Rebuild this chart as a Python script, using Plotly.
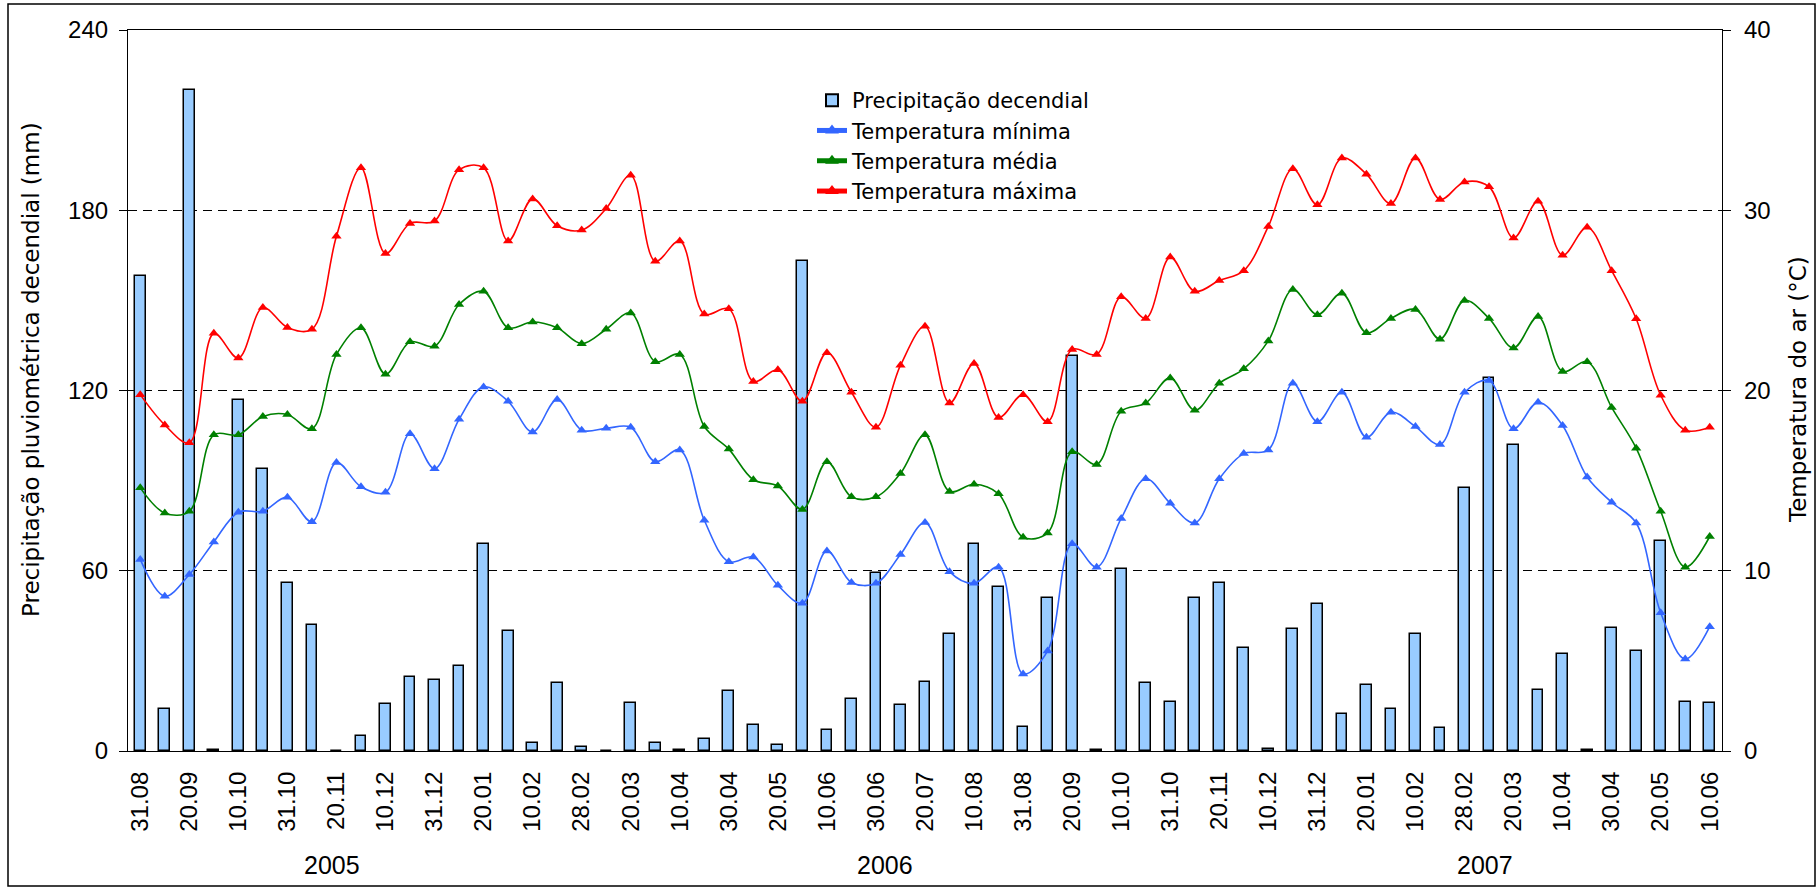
import plotly.graph_objects as go

# Decendial periods (end date of each ten-day period), Aug 2005 - Jun 2007
periods = [
    "31.08", "10.09", "20.09", "30.09", "10.10", "20.10", "31.10", "10.11", "20.11", "30.11",
    "10.12", "20.12", "31.12",
    "10.01", "20.01", "31.01", "10.02", "20.02", "28.02", "10.03", "20.03", "31.03", "10.04",
    "20.04", "30.04", "10.05", "20.05", "31.05", "10.06", "20.06", "30.06", "10.07", "20.07",
    "31.07", "10.08", "20.08", "31.08", "10.09", "20.09", "30.09", "10.10", "20.10", "31.10",
    "10.11", "20.11", "30.11", "10.12", "20.12", "31.12",
    "10.01", "20.01", "31.01", "10.02", "20.02", "28.02", "10.03", "20.03", "31.03", "10.04",
    "20.04", "30.04", "10.05", "20.05", "31.05", "10.06",
]

# Decendial rainfall (mm)
precip = [
    158, 14, 220, 0.5, 117, 94, 56, 42, 0, 5,
    15.5, 24.7, 23.6, 28.3, 69, 40, 2.8, 22.5, 1.3, 0,
    15.9, 2.8, 0.3, 3.9, 20, 8.6, 1.9, 163, 7, 17.3,
    59.2, 15.4, 22.9, 39, 69, 54.6, 8, 50.9, 131.4, 0.3,
    60.6, 22.5, 16.3, 50.9, 56, 34.4, 0.8, 40.5, 48.8, 12.2,
    22, 14.1, 38.9, 7.5, 87.6, 124.2, 102, 20.4, 32.3, 0.3,
    41.1, 33.4, 70, 16.3, 15.9,
]

# Air temperature (°C)
t_min = [
    10.63, 8.59, 9.79, 11.6, 13.25, 13.3, 14.08, 12.72, 16.0, 14.66,
    14.35, 17.6, 15.66, 18.4, 20.2, 19.4, 17.7, 19.5, 17.8, 17.9,
    17.96, 16.05, 16.7, 12.8, 10.5, 10.76, 9.19, 8.2, 11.1, 9.35,
    9.3, 10.9, 12.67, 9.95, 9.3, 10.2, 4.27, 5.55, 11.5, 10.2,
    12.9, 15.1, 13.74, 12.65, 15.1, 16.5, 16.7, 20.4, 18.27, 19.9,
    17.4, 18.8, 18.0, 17.0, 19.9, 20.55, 17.88, 19.35, 18.06, 15.2,
    13.8, 12.65, 7.67, 5.1, 6.9,
]
t_mean = [
    14.6, 13.2, 13.3, 17.54, 17.54, 18.56, 18.67, 17.88, 22.0, 23.48,
    20.9, 22.7, 22.46, 24.77, 25.5, 23.48, 23.8, 23.48, 22.6, 23.4,
    24.3, 21.6, 22.0, 18.0, 16.75, 15.05, 14.7, 13.4, 16.05, 14.1,
    14.1, 15.4, 17.54, 14.4, 14.8, 14.27, 11.86, 12.1, 16.6, 15.9,
    18.85, 19.3, 20.7, 18.9, 20.4, 21.2, 22.75, 25.6, 24.2, 25.4,
    23.2, 24.0, 24.5, 22.85, 25.0, 24.0, 22.36, 24.1, 21.05, 21.6,
    19.06, 16.8, 13.3, 10.2, 11.9,
]
t_max = [
    19.77, 18.09, 17.1, 23.17, 21.8, 24.6, 23.5, 23.4, 28.56, 32.36,
    27.6, 29.27, 29.4, 32.25, 32.36, 28.3, 30.63, 29.14, 28.9, 30.1,
    31.94, 27.17, 28.3, 24.24, 24.53, 20.5, 21.15, 19.4, 22.1, 19.9,
    17.96, 21.4, 23.56, 19.3, 21.5, 18.5, 19.77, 18.27, 22.28, 22.0,
    25.2, 24.0, 27.4, 25.5, 26.1, 26.65, 29.1, 32.3, 30.3, 32.9,
    32.0, 30.37, 32.9, 30.6, 31.57, 31.3, 28.46, 30.5, 27.5, 29.06,
    26.65, 23.98, 19.74, 17.8, 17.96,
]

years = ["2005", "2006", "2007"]
year_pos = [7.8, 30.35, 54.85]

W, H = 1820, 890
ML, MR, MT, MB = 128, 98, 30, 139
PW, PH = W - ML - MR, H - MT - MB

def px_x(p):
    return (p - ML) / PW

def px_y(p):
    return (H - MB - p) / PH

FONT = "Liberation Sans, Arial, sans-serif"
WIDE = "DejaVu Sans, Liberation Sans, sans-serif"
NARROW = "Liberation Sans Narrow, Arial Narrow, Liberation Sans, sans-serif"

idx = list(range(len(periods)))

fig = go.Figure()
fig.add_trace(go.Bar(
    x=idx, y=precip, name="Precipitação decendial",
    width=0.44,
    marker=dict(color="#99CCFF", line=dict(color="black", width=1.5)),
    yaxis="y",
))

line_series = [
    ("Temperatura mínima", t_min, "#3366FF"),
    ("Temperatura média", t_mean, "#008000"),
    ("Temperatura máxima", t_max, "#FF0000"),
]
for name, vals, col in line_series:
    fig.add_trace(go.Scatter(
        x=idx, y=vals, name=name, mode="lines+markers",
        line=dict(color=col, width=1.6, shape="spline", smoothing=1),
        marker=dict(symbol="triangle-up", size=9, color=col),
        yaxis="y2",
    ))

annotations = [
    dict(x=xp, y=px_y(865), xref="x", yref="paper", text=yr, showarrow=False,
         font=dict(family=NARROW, size=25, color="black"), xanchor="center", yanchor="middle")
    for yr, xp in zip(years, year_pos)
]
annotations += [
    dict(x=px_x(31), y=px_y(370), xref="paper", yref="paper",
         text="Precipitação pluviométrica decendial (mm)", textangle=-90, showarrow=False,
         font=dict(family=WIDE, size=23, color="black"), xanchor="center", yanchor="middle"),
    dict(x=px_x(1798), y=px_y(390), xref="paper", yref="paper",
         text="Temperatura do ar (°C)", textangle=-90, showarrow=False,
         font=dict(family=WIDE, size=23, color="black"), xanchor="center", yanchor="middle"),
]

fig.update_layout(
    width=W, height=H,
    margin=dict(l=ML, r=MR, t=MT, b=MB, pad=0),
    paper_bgcolor="white", plot_bgcolor="white",
    font=dict(family=FONT, size=24, color="black"),
    showlegend=True,
    bargap=0,
    legend=dict(
        x=px_x(812), y=px_y(80), xanchor="left", yanchor="top",
        bgcolor="rgba(0,0,0,0)", borderwidth=0,
        font=dict(family=WIDE, size=21, color="black"),
        tracegroupgap=0, itemsizing="constant",
    ),
    xaxis=dict(
        range=[-0.5, len(periods) - 0.5],
        tickmode="array", tickvals=idx[::2], ticktext=periods[::2],
        tickangle=-90, ticks="", showgrid=False, zeroline=False,
        showline=True, linecolor="black", linewidth=1.2, mirror=True,
        tickfont=dict(family=FONT, size=24), ticklabelstandoff=10,
    ),
    yaxis=dict(
        range=[0, 240], tick0=0, dtick=60,
        ticks="outside", ticklen=8, tickcolor="black", tickwidth=1.2,
        showline=True, linecolor="black", linewidth=1.2,
        showgrid=True, gridcolor="black", gridwidth=1, griddash="9px,6px",
        zeroline=False, ticklabelstandoff=6,
        tickfont=dict(family=FONT, size=24),
    ),
    yaxis2=dict(
        range=[0, 40], tick0=0, dtick=10, overlaying="y", side="right",
        ticks="outside", ticklen=8, tickcolor="black", tickwidth=1.2,
        showline=True, linecolor="black", linewidth=1.2,
        showgrid=False, zeroline=False, ticklabelstandoff=8,
        tickfont=dict(family=FONT, size=24),
    ),
    annotations=annotations,
    shapes=[dict(
        type="rect", xref="paper", yref="paper",
        x0=px_x(8), x1=px_x(1815), y0=px_y(886), y1=px_y(4),
        line=dict(color="black", width=1.5), fillcolor="rgba(0,0,0,0)", layer="below",
    )],
)

fig.write_html("out.html")
